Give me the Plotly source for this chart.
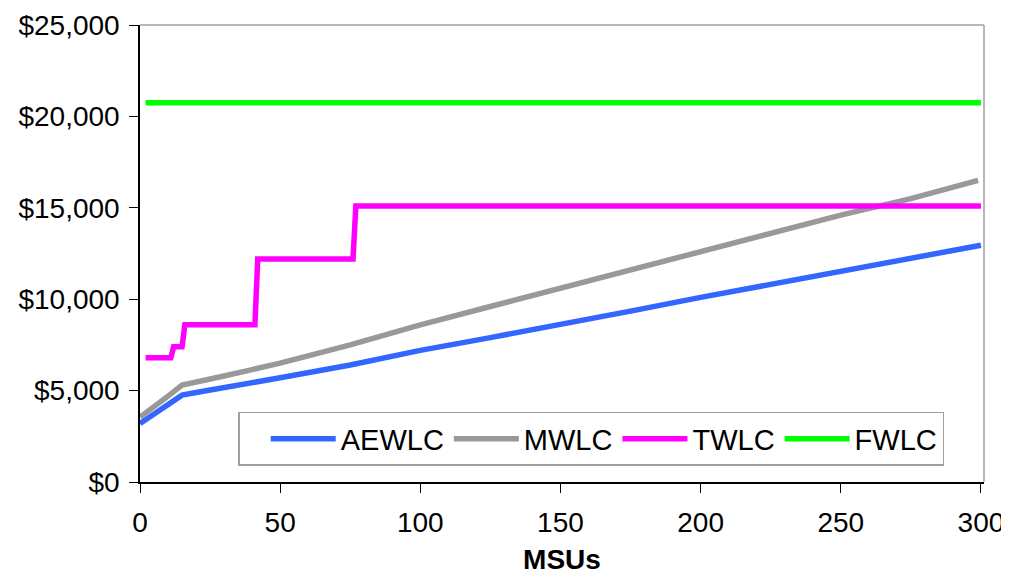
import plotly.graph_objects as go

# ---- data ----
msu_ae = [0, 5, 10, 15, 20, 30, 40, 50, 75, 100, 125, 150, 175, 200, 225, 250, 275, 300]
aewlc = [3200, 3700, 4200, 4750, 4900, 5150, 5400, 5700, 6400, 7200, 7900, 8600, 9350, 10100, 10800, 11500, 12200, 12950]

msu_mw = [0, 5, 10, 15, 20, 30, 40, 50, 75, 100, 125, 150, 175, 200, 225, 250, 275, 299]
mwlc = [3550, 4100, 4700, 5300, 5450, 5800, 6150, 6500, 7500, 8600, 9600, 10600, 11600, 12650, 13600, 14600, 15500, 16500]

msu_tw = [2, 11, 12, 15, 16, 41, 42, 76, 77, 300]
twlc = [6800, 6800, 7400, 7400, 8600, 8600, 12200, 12200, 15100, 15100]

msu_fw = [2, 300]
fwlc = [20750, 20750]

x_ticks = [0, 50, 100, 150, 200, 250, 300]
y_ticks = [0, 5000, 10000, 15000, 20000, 25000]
y_tick_labels = ["$0", "$5,000", "$10,000", "$15,000", "$20,000", "$25,000"]

series = [
    ("AEWLC", msu_ae, aewlc, "#3366FF"),
    ("MWLC", msu_mw, mwlc, "#999999"),
    ("TWLC", msu_tw, twlc, "#FF00FF"),
    ("FWLC", msu_fw, fwlc, "#00FF00"),
]

FONT = "Liberation Sans, Arial, sans-serif"
FS = 28

fig = go.Figure()
for name, xs, ys, col in series:
    fig.add_trace(go.Scatter(x=xs, y=ys, name=name, mode="lines",
                             line=dict(color=col, width=5.5)))

# page is offset by the 8px body margin
fig.update_layout(
    width=1001, height=567,
    margin=dict(l=132, r=25, t=17, b=93, autoexpand=False),
    paper_bgcolor="white", plot_bgcolor="white",
    font=dict(family=FONT, size=FS, color="black"),
    showlegend=True,
    legend=dict(orientation="h", x=0.1162, y=0.1536, xanchor="left", yanchor="top",
                bgcolor="white", bordercolor="#A0A0A0", borderwidth=1.5,
                font=dict(family=FONT, size=29, color="black"),
                title=dict(text="\u00a0\u00a0", side="left", font=dict(family=FONT, size=29)),
                itemwidth=65, traceorder="normal",
                tracegroupgap=0),
    xaxis=dict(range=[0, 301.1], tickmode="array", tickvals=x_ticks,
               automargin=False,
               showgrid=False, zeroline=False, showline=True, linecolor="black", linewidth=1.5,
               ticks="outside", ticklen=9, tickcolor="black", tickwidth=1,
               ticklabelstandoff=6,
               tickfont=dict(family=FONT, size=FS),
               title=dict(text="<b>MSUs</b>", font=dict(family=FONT, size=FS), standoff=22)),
    yaxis=dict(range=[0, 25000], tickmode="array", tickvals=y_ticks, ticktext=y_tick_labels,
               automargin=False,
               showgrid=False, zeroline=False, showline=True, linecolor="black", linewidth=1.5,
               ticks="outside", ticklen=9, tickcolor="black", tickwidth=1,
               ticklabelstandoff=4,
               tickfont=dict(family=FONT, size=FS)),
    shapes=[
        dict(type="line", xref="paper", yref="paper", x0=0, x1=1, y0=1, y1=1,
             line=dict(color="#A0A0A0", width=1.5)),
        dict(type="line", xref="paper", yref="paper", x0=1, x1=1, y0=0, y1=1,
             line=dict(color="#A0A0A0", width=1.5)),
    ],
)

fig.write_html("out.html")
